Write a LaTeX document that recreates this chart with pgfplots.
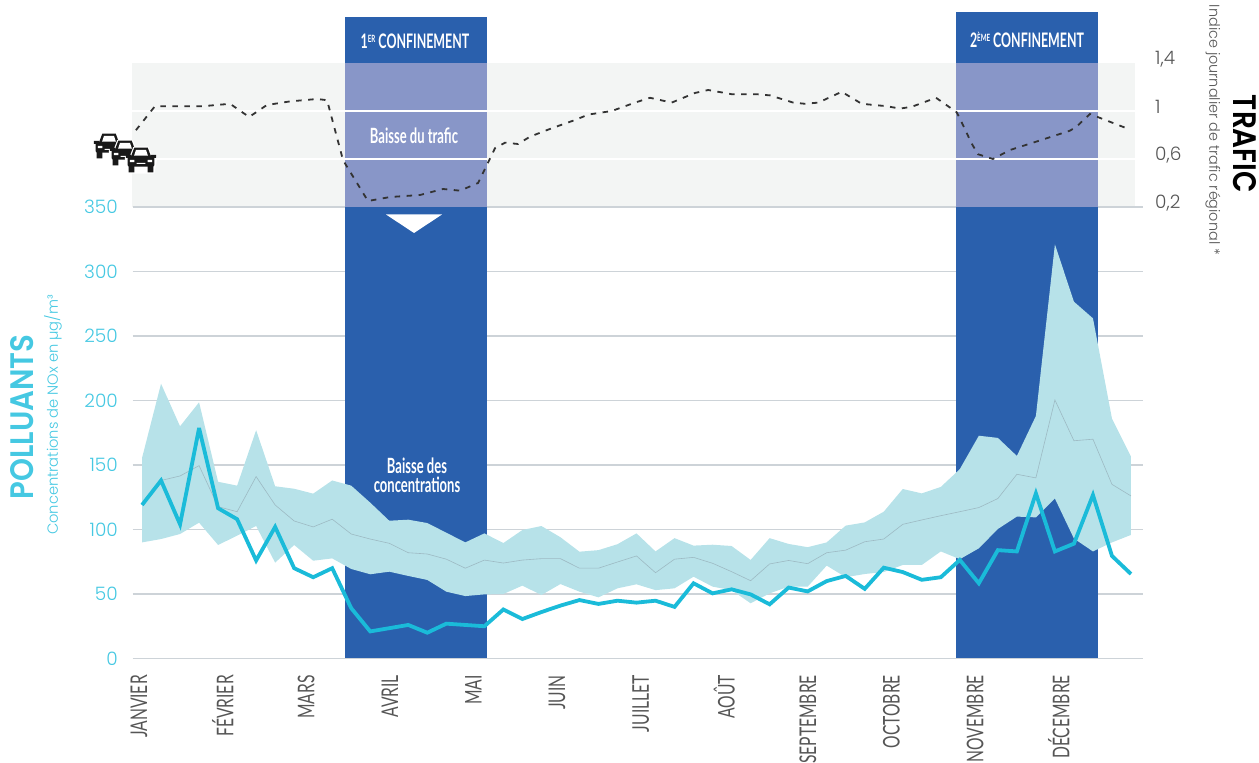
\documentclass[border=0pt]{standalone}
\usepackage{pgfplots}
\usepackage{pgfplotstable}
\usepackage{fontspec}
\pgfplotsset{compat=1.18}
\setmainfont{Lato}
\newfontfamily\pop{Poppins Light}
\newfontfamily\popb{Poppins SemiBold}
\newfontfamily\cond[FakeStretch=0.62]{Lato}
\newfontfamily\condl[FakeStretch=0.68]{Lato}
\definecolor{cblue}{HTML}{2A60AD}
\definecolor{cpurple}{HTML}{8896C8}
\definecolor{cband}{HTML}{F3F5F4}
\definecolor{carea}{HTML}{B7E2E9}
\definecolor{cline}{HTML}{1ABBD9}
\definecolor{cteal}{HTML}{45C8E2}
\definecolor{cgrid}{HTML}{CDD3D8}
\definecolor{cmed}{HTML}{9DBAC3}
\definecolor{ctxt}{HTML}{555555}
\pgfplotstableread{
i med no
0 119 119
1 138 138
2 141.5 104
3 149.5 178.6
4 117.7 116.5
5 113.8 108
6 141 76
7 119 102
8 106.6 70
9 102 63
10 108 70
11 96.5 39
12 92.6 21
13 89.3 23.5
14 82 26
15 81 20
16 77 27
17 70 26
18 76.3 25
19 74 38
20 76.3 30.6
21 77.4 36
22 77.4 41
23 70 45.3
24 70 42.3
25 74.8 44.8
26 79.5 43.3
27 66.5 44.8
28 77 40
29 78.4 58.3
30 73.8 50.5
31 67.3 53.6
32 60.3 49.7
33 73.3 42
34 76 55
35 73.5 52
36 82 60
37 84 64
38 90.5 54
39 92.6 70.4
40 104 67
41 107.4 61
42 110.7 63
43 113.8 76.4
44 117 58.3
45 124 84
46 142.8 83
47 140 128
48 200.4 83
49 168.8 89
50 170 126.7
51 135 79.5
52 126 65.5
}\pollution
% envelope: upper edge left to right, then lower edge right to left
\pgfplotstableread{
i v
0 155.4
1 213
2 180
3 198.6
4 137
5 134
6 177
7 133.5
8 131.6
9 127.8
10 138
11 134
12 120.8
13 106.8
14 107.6
15 105
16 97.5
17 90
18 97
19 89.5
20 99.6
21 102.7
22 94
23 82.8
24 84
25 88.6
26 97
27 83
28 93.3
29 87.5
30 88.2
31 87.2
32 76.4
33 93.3
34 88.8
35 86.3
36 90
37 103
38 105.5
39 113.8
40 131.4
41 128
42 133
43 146.8
44 172.7
45 171
46 157
47 188
48 321
49 276.6
50 263.7
51 186
52 156.5
52 95.8
51 90
50 83
49 93
48 124
47 109.4
46 110
45 100.4
44 85.4
43 77
42 83
41 72.5
40 72.5
39 67
38 65.5
37 63
36 72
35 55.7
34 55.7
33 50.5
32 42.8
31 53
30 55.7
29 63.4
28 54.4
27 53
26 57.5
25 54.4
24 47.4
23 51.8
22 57.7
21 49.2
20 56.5
19 50
18 49.7
17 48.4
16 51.8
15 60.9
14 64
13 67.3
12 65.3
11 69.4
10 77.6
9 75.8
8 88
7 74.3
6 102.7
5 95.2
4 88
3 105.3
2 96.5
1 92.6
0 90
}\envelope
\pgfplotstableread{
w v
-0.32 0.84
0.68 1.04
1.84 1.04
3.21 1.04
4.63 1.06
5.63 0.95
6.57 1.05
7.78 1.08
9.2 1.10
9.73 1.09
10.57 0.59
11.88 0.25
13.04 0.283
14.62 0.30
15.83 0.35
16.72 0.336
17.67 0.40
18.56 0.69
19.09 0.736
19.77 0.725
20.4 0.786
21.54 0.856
22.77 0.925
23.46 0.97
24.7 1.0
25.92 1.07
26.71 1.11
27.85 1.07
29.07 1.15
29.77 1.175
31.0 1.14
32.32 1.14
33.02 1.13
34.24 1.07
34.86 1.06
35.56 1.07
36.79 1.16
37.84 1.06
39.15 1.04
39.85 1.02
40.47 1.035
41.75 1.11
42.83 0.99
43.04 0.925
43.62 0.73
43.95 0.64
44.74 0.60
45.64 0.675
46.85 0.736
48.79 0.836
49.14 0.87
49.84 0.975
51.77 0.856
}\traffic
\newcommand\car[2]{%
\begin{scope}[shift={(#1,763-#2)},scale=1.12]
\path[fill=white,draw=white,line width=2.4pt,line join=round] (-13.5,2) -- (-9,3) -- (-6,11) -- (6,11) -- (9,3) -- (13.5,2) -- (12,-6) -- (11,-11) -- (-11,-11) -- (-12,-6) -- cycle;
\fill[black!90] (-9,3) -- (-6,11) -- (6,11) -- (9,3) -- cycle;
\fill[white] (-6.5,3) -- (-4.5,9) -- (4.5,9) -- (6.5,3) -- cycle;
\fill[black!90,rounded corners=2pt] (-12,-6) rectangle (12,4);
\fill[black!90] (-11,-11) rectangle (-6,-5) (6,-11) rectangle (11,-5);
\fill[black!90] (-13.5,2) rectangle (-9,4.5) (9,2) rectangle (13.5,4.5);
\fill[white] (-10,-2) rectangle (-6,0) (6,-2) rectangle (10,0) (-4,-3.5) rectangle (4,-2.5);
\end{scope}}
\begin{document}
\begin{tikzpicture}
\useasboundingbox (0pt,0pt) rectangle (1259pt,763pt);
% pollutants
\begin{axis}[at={(132.7pt,104.5pt)},anchor=south west,scale only axis,
  width=1010.3pt,height=451.5pt,
  xmin=-0.49,xmax=52.63,ymin=0,ymax=350,clip=false,
  axis line style={draw=none},major tick length=0pt,
  ytick={0,50,...,350},ymajorgrids,
  grid style={cgrid,line width=1.1pt},
  /pgf/number format/assume math mode=true,
  yticklabel style={anchor=east,inner sep=0pt,xshift=-14.7pt,text=cteal,font=\pop\fontsize{18.5}{20}\selectfont},
  xtick={-0.16,4.24,8.63,13.03,17.42,21.82,26.22,30.61,35.01,39.40,43.80,48.20},
  xticklabels={JANVIER,FÉVRIER,MARS,AVRIL,MAI,JUIN,JUILLET,AOÛT,SEPTEMBRE,OCTOBRE,NOVEMBRE,DÉCEMBRE},
  xticklabel style={rotate=90,anchor=east,inner sep=0pt,xshift=-16.5pt,text=ctxt,font=\condl\fontsize{23}{24}\selectfont},
]
\addplot[fill=cblue,draw=none] coordinates {(10.67,0)(18.14,0)(18.14,497.3)(10.67,497.3)};
\addplot[fill=cblue,draw=none] coordinates {(42.8,0)(50.28,0)(50.28,501)(42.8,501)};
\addplot[fill=carea,draw=none] table[x=i,y=v]{\envelope};
\addplot[cmed,line width=0.6pt] table[x=i,y=med]{\pollution};
\addplot[cline,line width=3.8pt,line join=miter,miter limit=4] table[x=i,y=no]{\pollution};
\end{axis}
% traffic
\begin{axis}[at={(132.7pt,556pt)},anchor=south west,scale only axis,
  width=1010.3pt,height=144pt,
  xmin=-0.49,xmax=52.63,ymin=0.2,ymax=1.4,clip=false,
  axis line style={draw=none},major tick length=0pt,
  xtick=\empty,ytick={0.2,0.6,1,1.4},yticklabels={{0,2},{0,6},{1},{1,4}},
  yticklabel pos=right,
  yticklabel style={anchor=west,inner sep=0pt,xshift=12pt,yshift=4pt,text=ctxt,font=\pop\fontsize{18.5}{20}\selectfont},
]
\addplot[fill=cband,draw=none] coordinates {(-0.55,0.2)(52.2,0.2)(52.2,1.4)(-0.55,1.4)};
\addplot[fill=cpurple,draw=none] coordinates {(10.67,0.2)(18.14,0.2)(18.14,1.4)(10.67,1.4)};
\addplot[fill=cpurple,draw=none] coordinates {(42.8,0.2)(50.28,0.2)(50.28,1.4)(42.8,1.4)};
\addplot[white,line width=1.1pt] coordinates {(-0.55,1)(52.2,1)};
\addplot[white,line width=1.1pt] coordinates {(-0.55,0.6)(52.2,0.6)};
\addplot[cgrid,line width=1.1pt] coordinates {(-0.49,0.2)(10.67,0.2)};
\addplot[cgrid,line width=1.1pt] coordinates {(18.14,0.2)(42.8,0.2)};
\addplot[cgrid,line width=1.1pt] coordinates {(50.28,0.2)(52.63,0.2)};
\addplot[black!80,line width=1.8pt,dash pattern=on 5.5pt off 6.5pt] table[x=w,y=v]{\traffic};
\end{axis}
\begin{scope}[x=1pt,y=1pt]
% cars
\car{109}{146}\car{125}{153}\car{141}{160}
% annotations
\fill[white] (386,763-214.5) -- (442,763-214.5) -- (414,763-233) -- cycle;
\node[white,font=\cond\bfseries\fontsize{20}{22}\selectfont] at (415,763-41) {1\raisebox{0.6ex}{\fontsize{10}{10}\selectfont ER} CONFINEMENT};
\node[white,font=\cond\bfseries\fontsize{20}{22}\selectfont] at (1027,763-40) {2\raisebox{0.6ex}{\fontsize{10}{10}\selectfont ÈME} CONFINEMENT};
\node[white,font=\cond\bfseries\fontsize{21}{22}\selectfont] at (414,763-136) {Baisse du trafic};
\node[white,font=\cond\bfseries\fontsize{21}{19.5}\selectfont,align=center] at (417,763-475.5) {Baisse des\\concentrations};
\node[rotate=90,text=cteal,font=\popb,inner sep=0pt] at (22,763-417) {\resizebox{165pt}{23pt}{POLLUANTS}};
\node[rotate=90,text=cteal,font=\pop,inner sep=0pt] at (53,763-415) {\resizebox{240pt}{!}{Concentrations de NOx en µg/m³}};
\node[rotate=-90,text=ctxt,font=\pop,inner sep=0pt] at (1213,763-130) {\resizebox{250pt}{!}{Indice journalier de trafic régional *}};
\node[rotate=-90,text=black,font=\popb,inner sep=0pt] at (1245,763-144) {\resizebox{98pt}{23pt}{TRAFIC}};
\end{scope}
\end{tikzpicture}
\end{document}
